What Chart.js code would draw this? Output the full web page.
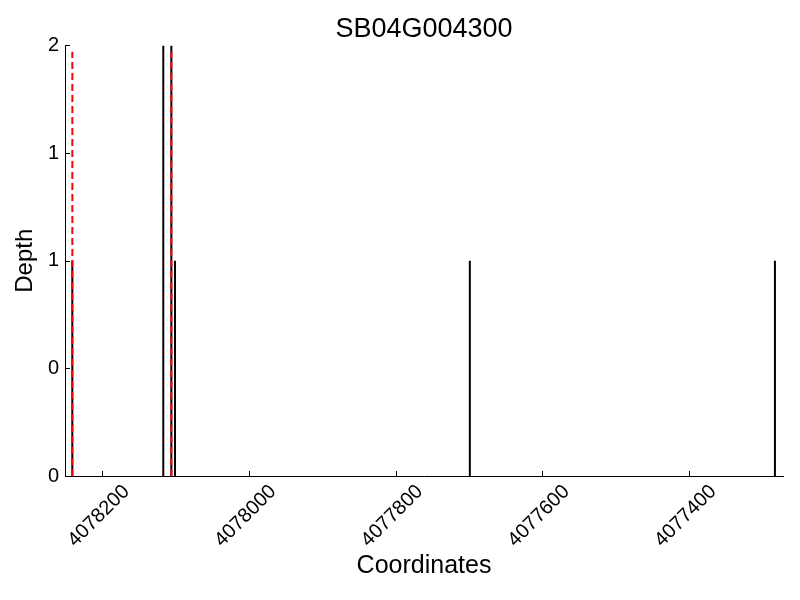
<!DOCTYPE html>
<html>
<head>
<meta charset="utf-8">
<script src="https://cdn.jsdelivr.net/npm/chart.js@4"></script>
<style>
  body { margin: 0; background: #fff; }
  canvas { display: block; }
</style>
</head>
<body>
<canvas id="depthChart" width="800" height="600"></canvas>
<script>
// read positions (coordinates) and depths
const blackPos = [4078241, 4078117, 4078106, 4078101, 4077699, 4077283];
const blackDepth = [1, 2, 2, 1, 1, 1];
// gene boundaries (red dashed)
const redPos = [4078241, 4078106];
const redDepth = [1.97, 1.97];
const xTickValues = [4078200, 4078000, 4077800, 4077600, 4077400];
const yTickValues = [0, 0.5, 1, 1.5, 2];
const yTickLabels = ['0', '0', '1', '1', '2'];
const xMin = 4077272;
const xMax = 4078251;

const FONT = "'Liberation Sans', Arial, sans-serif";

const datasets = [];
redPos.forEach((x, i) => {
  datasets.push({
    data: [{ x: x, y: 0 }, { x: x, y: redDepth[i] }],
    borderColor: '#ff0000',
    borderWidth: 2,
    borderDash: [7, 4],
    pointRadius: 0,
    order: 0
  });
});
blackPos.forEach((x, i) => {
  datasets.push({
    data: [{ x: x, y: 0 }, { x: x, y: blackDepth[i] }],
    borderColor: '#000000',
    borderWidth: 2,
    pointRadius: 0,
    order: 1
  });
});

// matplotlib-style inward tick marks
const inwardTicks = {
  id: 'inwardTicks',
  afterDraw(chart) {
    const ctx = chart.ctx;
    const xs = chart.scales.x;
    const ys = chart.scales.y;
    const area = chart.chartArea;
    ctx.save();
    ctx.strokeStyle = '#000';
    ctx.lineWidth = 1;
    ctx.beginPath();
    xs.ticks.forEach(t => {
      const px = Math.round(xs.getPixelForValue(t.value)) + 0.5;
      ctx.moveTo(px, area.bottom);
      ctx.lineTo(px, area.bottom - 5);
    });
    ys.ticks.forEach(t => {
      const py = Math.round(ys.getPixelForValue(t.value)) + 0.5;
      ctx.moveTo(area.left, py);
      ctx.lineTo(area.left + 5, py);
    });
    ctx.stroke();
    ctx.restore();
  }
};

new Chart(document.getElementById('depthChart'), {
  type: 'line',
  data: { datasets: datasets },
  options: {
    responsive: false,
    animation: false,
    layout: { padding: { top: 0, right: 17, bottom: 0, left: 0 } },
    plugins: {
      legend: { display: false },
      tooltip: { enabled: false },
      title: {
        display: true,
        fullSize: false,
        text: 'SB04G004300',
        color: '#000',
        font: { family: FONT, size: 27, weight: 'normal' },
        padding: { top: 13, bottom: 0 }
      }
    },
    scales: {
      x: {
        type: 'linear',
        reverse: true,
        min: xMin,
        max: xMax,
        afterBuildTicks: scale => { scale.ticks = xTickValues.map(v => ({ value: v })); },
        afterFit: scale => { scale.height = 124; },
        grid: { display: false, drawTicks: false },
        border: { display: true, color: '#000', width: 1 },
        ticks: {
          minRotation: 45,
          maxRotation: 45,
          padding: 4,
          labelOffset: 24,
          color: '#000',
          font: { family: FONT, size: 20 },
          callback: v => String(v)
        },
        title: {
          display: true,
          text: 'Coordinates',
          color: '#000',
          font: { family: FONT, size: 25 },
          padding: { top: 0, bottom: 19 }
        }
      },
      y: {
        min: 0,
        max: 2,
        afterBuildTicks: scale => { scale.ticks = yTickValues.map(v => ({ value: v })); },
        afterFit: scale => { scale.width = 65; },
        grid: { display: false, drawTicks: false },
        border: { display: true, color: '#000', width: 1 },
        ticks: {
          padding: 6,
          color: '#000',
          font: { family: FONT, size: 20 },
          callback: (v, i) => yTickLabels[i]
        },
        title: {
          display: true,
          text: 'Depth',
          color: '#000',
          font: { family: FONT, size: 24 },
          padding: { top: 11, bottom: 0 }
        }
      }
    }
  },
  plugins: [inwardTicks]
});
</script>
</body>
</html>
